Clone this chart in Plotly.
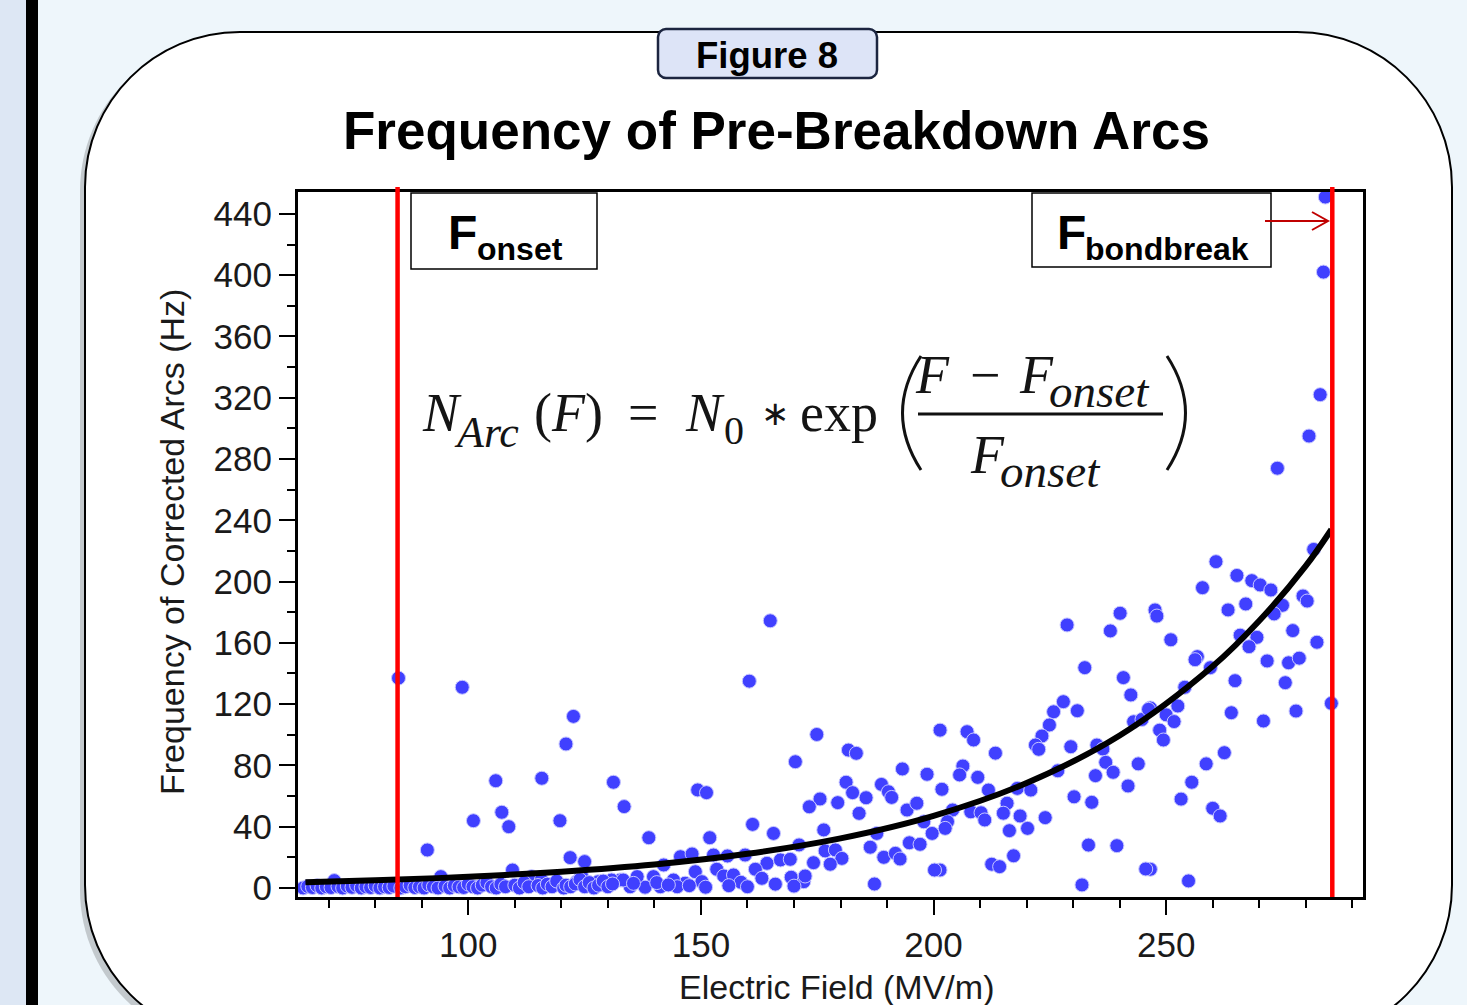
import plotly.graph_objects as go

# ---------------- data ----------------
field_mv_m = [
    284.2, 283.8, 283.1, 280.7, 273.9, 85.0, 98.7, 164.9, 160.4, 122.6, 121.0,
    260.7, 265.2, 268.4, 270.2, 272.5, 257.8, 247.6, 248.0, 263.3, 267.1, 275.0, 273.2,
    279.4, 280.3, 281.7, 251.0, 277.2, 269.5, 267.8, 265.9, 282.4, 256.7, 256.2, 259.5,
    271.7, 276.3, 278.6, 264.8, 275.6, 254.0, 252.5, 246.6, 250.0, 251.7, 248.6, 249.4,
    264.0, 270.9, 277.9, 285.5, 262.5, 258.6, 255.5, 253.2, 260.0, 261.6, 246.6, 254.8,
    228.7, 238.0, 240.1, 232.5, 240.8, 242.4, 227.9, 225.8, 230.9, 224.9, 223.3, 221.9,
    222.6, 229.5, 235.1, 236.4, 243.0, 244.8, 246.2, 237.0, 238.6, 234.8, 244.0, 241.8,
    226.7, 213.3, 207.2, 208.6, 201.4, 206.3, 205.6, 209.5, 201.8, 211.8, 218.0, 220.9,
    215.8, 215.0, 218.6, 204.1, 203.0, 202.5, 208.0, 210.2, 211.0, 224.0, 216.3, 220.2,
    230.2, 234.0, 233.3, 239.4, 217.2, 212.5, 214.2, 245.6, 231.9, 201.4,
    174.9, 181.7, 183.4, 170.3, 149.3, 151.2, 133.5, 193.3, 198.6, 181.2, 182.6, 185.5,
    188.8, 190.3, 191.0, 175.6, 173.3, 179.4, 184.0, 194.3, 196.4, 197.9, 199.7, 161.1,
    165.6, 151.9, 138.8, 176.4, 171.1, 187.8, 186.4, 194.8, 197.1, 176.7, 178.9, 180.3,
    177.8, 174.2, 189.3, 191.8, 192.8, 187.3, 200.2, 169.4, 172.1, 172.4, 145.6, 148.1,
    152.7, 155.7, 159.5, 164.2, 167.1, 169.2, 161.7, 163.1, 153.4, 154.9, 157.0, 158.6,
    148.8, 150.2, 146.6, 142.0, 139.8, 144.1, 141.3, 144.9, 134.8, 138.0, 136.3, 132.7,
    105.9, 115.8, 131.2, 107.2, 101.1, 108.7, 119.7, 91.2, 121.9, 125.0, 94.1, 109.5,
    71.2, 113.6, 115.7, 120.0, 123.3, 124.3, 127.9, 130.8, 133.3,
    64.5, 65.5, 66.5, 67.5, 68.5, 69.5, 70.5, 72.0, 73.0, 74.0, 75.0, 76.0, 77.0, 78.0,
    79.0, 80.0, 81.0, 82.0, 83.0, 84.0, 85.5, 86.5, 87.5, 88.5, 89.5, 90.5, 91.5, 92.5,
    93.5, 95.0, 96.0, 97.0, 98.0, 99.0, 100.0, 101.0, 102.0, 103.0, 104.0, 105.0, 106.0,
    107.0, 108.0, 110.0, 111.0, 112.0, 113.0, 115.0, 116.0, 117.0, 118.0, 119.0, 120.5,
    121.0, 122.0, 123.0, 124.0, 125.0, 126.0, 127.0, 128.0, 129.0, 130.0, 131.0, 135.5,
    140.5, 143.0, 147.5, 151.0, 156.0, 160.0, 166.0, 170.0,
]
arcs_hz = [
    451, 402, 322, 295, 274, 137, 131, 174.4, 135, 112, 94,
    213, 204, 200.6, 197.8, 194.5, 196, 181.5, 177.5, 181.5, 185.4, 184.5, 178.9,
    190.6, 187.3, 221, 162, 168, 163.6, 157.5, 165, 160.4, 151, 149, 143.8,
    148.2, 147, 150, 135.3, 134, 131, 118.8, 117.5, 113, 108.6, 103, 96.6,
    114.4, 109, 115.5, 120.5, 88.3, 81, 69, 58, 52, 47, 12.2, 4.6,
    171.7, 167.8, 179.3, 143.8, 137.3, 126, 121.6, 115, 115.7, 106.4, 99.2, 93.3,
    90.5, 92.2, 93.3, 90.7, 108.5, 110, 116.6, 82, 75.5, 73.3, 81, 66.6,
    76.5, 88, 102, 96.6, 103, 79.6, 73.8, 72.2, 64.4, 63.9, 65, 63.9,
    55.3, 48.8, 47, 50.9, 43.3, 38.9, 49.7, 49.1, 44.4, 45.9, 37.4, 38.9,
    59.5, 55.9, 28, 27.6, 21, 15.5, 13.9, 12.4, 2, 11.7,
    100.2, 90, 87.9, 82.4, 64, 62.2, 53.1, 77.7, 74.2, 69, 62.2, 58.9,
    67.6, 62.8, 59.1, 58.1, 53, 55.7, 48.7, 50.9, 55.3, 43.2, 35.6, 41.5,
    35.6, 32.8, 32.8, 37.9, 28.1, 35.6, 26.6, 29.5, 28.5, 24.2, 24.8, 19.3,
    15.5, 16.5, 20, 22.6, 18.9, 2.6, 11.7, 7, 4.1, 7.8, 20.4, 22.2,
    21.5, 20.9, 21.5, 16.1, 18.3, 18.7, 12.2, 6.3, 12.2, 7.8, 8.5, 3.7,
    10.6, 4.1, 3.1, 15, 7.4, 5.2, 0.8, 0.8, 0.8, 0.5, 7.4, 5.2,
    70, 71.6, 69, 49.4, 43.9, 40, 43.9, 24.8, 19.8, 17.2, 7.4, 11.7,
    4.8, 7.4, 5.2, 2, 4.1, 8.5, 4.1, 5.2, 5.2,
    0, 1, 0.3, 1.5, 0, 0.8, 0.3, 1, 0, 1.2, 0.4, 1.6, 0, 0.8,
    0.3, 1.5, 0, 0.8, 0.3, 1.2, 0, 0.8, 1.8, 0.3, 0.8, 0, 2, 0.8,
    0, 1.2, 0, 1.6, 0.7, 0.3, 2.5, 0.8, 0, 1.8, 3.5, 0.8, 0,
    2.5, 0.8, 1.8, 0, 3.5, 0.8, 1.6, 0, 2.5, 0.8, 4.5, 0,
    1.8, 0.8, 2.6, 5.5, 0.8, 3.5, 0, 1.8, 4.5, 0.8, 2.6, 3,
    3.5, 2, 1.5, 0.5, 1.5, 0.8, 2.5, 1.2,
]

# exponential fit curve
fit_field = [65, 80, 100, 120, 140, 160, 180, 200, 220, 240, 260, 270, 280, 285.5]
fit_arcs = [3.8, 5.0, 7.3, 10.6, 15.3, 22.3, 32.4, 47.1, 68.5, 99.5, 144.7, 174.4, 210.2, 234]

f_onset = 84.8
f_bondbreak = 285.7

x_range = [63.4, 292.3]
y_range = [-5.9, 454.3]

# ---------------- layout helpers (pixel -> paper) ----------------
W, H = 1467, 1005
L, R, T, B = 298, 1363, 192, 897


def px(x):
    return (x - L) / (R - L)


def py(y):
    return (B - y) / (B - T)


def rrect(x0, y0, x1, y1, r):
    k = 0.5523 * r
    pts = []
    pts.append(f"M{px(x0 + r)},{py(y0)}")
    pts.append(f"L{px(x1 - r)},{py(y0)}")
    pts.append(f"C{px(x1 - r + k)},{py(y0)} {px(x1)},{py(y0 + r - k)} {px(x1)},{py(y0 + r)}")
    pts.append(f"L{px(x1)},{py(y1 - r)}")
    pts.append(f"C{px(x1)},{py(y1 - r + k)} {px(x1 - r + k)},{py(y1)} {px(x1 - r)},{py(y1)}")
    pts.append(f"L{px(x0 + r)},{py(y1)}")
    pts.append(f"C{px(x0 + r - k)},{py(y1)} {px(x0)},{py(y1 - r + k)} {px(x0)},{py(y1 - r)}")
    pts.append(f"L{px(x0)},{py(y0 + r)}")
    pts.append(f"C{px(x0)},{py(y0 + r - k)} {px(x0 + r - k)},{py(y0)} {px(x0 + r)},{py(y0)}")
    pts.append("Z")
    return " ".join(pts)


SANS = "Liberation Sans, Arial, sans-serif"
SERIF = "Liberation Serif, Times New Roman, serif"

fig = go.Figure()

fig.add_trace(go.Scatter(
    x=field_mv_m, y=arcs_hz, mode="markers",
    marker=dict(size=14, color="rgb(64,64,255)", line=dict(width=1, color="rgb(200,200,255)")),
    cliponaxis=False, showlegend=False, hoverinfo="skip",
))
fig.add_trace(go.Scatter(
    x=fit_field, y=fit_arcs, mode="lines", line=dict(color="black", width=6, shape="spline"),
    showlegend=False, hoverinfo="skip",
))

shapes = []
# page background pieces
shapes.append(dict(type="rect", xref="paper", yref="paper", x0=px(0), x1=px(26), y0=py(0), y1=py(H),
                   fillcolor="#dde7f4", line=dict(width=0), layer="below"))
shapes.append(dict(type="rect", xref="paper", yref="paper", x0=px(26), x1=px(38), y0=py(0), y1=py(H),
                   fillcolor="black", line=dict(width=0), layer="below"))
# shadow + rounded panel
shapes.append(dict(type="path", xref="paper", yref="paper", path=rrect(80, 36, 1448, 1045, 155),
                   fillcolor="rgba(0,0,0,0.18)", line=dict(width=0), layer="below"))
shapes.append(dict(type="path", xref="paper", yref="paper", path=rrect(85, 32, 1452, 1040, 155),
                   fillcolor="white", line=dict(width=2, color="black"), layer="below"))
# Figure 8 box
shapes.append(dict(type="path", xref="paper", yref="paper", path=rrect(658, 29, 877, 78, 8),
                   fillcolor="#dde4f7", line=dict(width=2.5, color="#1c2540"), layer="below"))
# red vertical lines
for fx in (f_onset, f_bondbreak):
    shapes.append(dict(type="line", xref="x", yref="paper", x0=fx, x1=fx, y0=py(897), y1=py(187),
                       line=dict(color="#ff0000", width=4.5), layer="above"))
# label boxes
shapes.append(dict(type="rect", xref="paper", yref="paper", x0=px(411), x1=px(597), y0=py(269), y1=py(193),
                   fillcolor="white", line=dict(width=1.5, color="black"), layer="above"))
shapes.append(dict(type="rect", xref="paper", yref="paper", x0=px(1032), x1=px(1271), y0=py(267), y1=py(193),
                   fillcolor="white", line=dict(width=1.5, color="black"), layer="above"))
# red arrow
shapes.append(dict(type="path", xref="paper", yref="paper",
                   path=f"M{px(1265)},{py(221)} L{px(1327)},{py(221)} M{px(1312)},{py(212)} L{px(1328)},{py(221)} L{px(1312)},{py(230)}",
                   line=dict(color="#c00000", width=2), layer="above"))
# formula: fraction bar and big parentheses
shapes.append(dict(type="line", xref="paper", yref="paper", x0=px(918), x1=px(1163), y0=py(414), y1=py(414),
                   line=dict(color="#111", width=3), layer="above"))
shapes.append(dict(type="path", xref="paper", yref="paper",
                   path=f"M{px(921)},{py(356)} Q{px(884)},{py(413)} {px(921)},{py(470)}",
                   line=dict(color="#111", width=3), layer="above"))
shapes.append(dict(type="path", xref="paper", yref="paper",
                   path=f"M{px(1167)},{py(356)} Q{px(1204)},{py(413)} {px(1167)},{py(470)}",
                   line=dict(color="#111", width=3), layer="above"))

ann = []


def text(x, y, s, size, family=SANS, xanchor="center", yanchor="middle", angle=0, color="black"):
    ann.append(dict(x=px(x), y=py(y), xref="paper", yref="paper", text=s, showarrow=False,
                    xanchor=xanchor, yanchor=yanchor, textangle=angle,
                    font=dict(size=size, family=family, color=color)))


text(767, 55, "<b>Figure 8</b>", 36.5)
text(776, 130, "<b>Frequency of Pre-Breakdown Arcs</b>", 53)
text(836, 987, "Electric Field (MV/m)", 34, color="#1a1a1a")
text(172, 542, "Frequency of Corrected Arcs (Hz)", 34, angle=-90, color="#1a1a1a")

# label box texts
text(446, 233, "<b>F</b>", 48, xanchor="left")
text(475, 249, "<b>onset</b>", 32, xanchor="left")
text(1055, 233, "<b>F</b>", 48, xanchor="left")
text(1083, 249, "<b>bondbreak</b>", 32, xanchor="left")

# formula pieces
FC = "#141414"
text(420, 413, "<i>N</i>", 54, SERIF, xanchor="left", color=FC)
text(452, 432, "<i>Arc</i>", 44, SERIF, xanchor="left", color=FC)
text(532, 413, "(<i>F</i>)", 54, SERIF, xanchor="left", color=FC)
text(626, 413, "=", 54, SERIF, xanchor="left", color=FC)
text(683, 413, "<i>N</i>", 54, SERIF, xanchor="left", color=FC)
text(722, 430, "0", 40, SERIF, xanchor="left", color=FC)
text(759, 413, "∗", 34, SERIF, xanchor="left", color=FC)
text(798, 413, "exp", 54, SERIF, xanchor="left", color=FC)
text(913, 375, "<i>F</i>", 54, SERIF, xanchor="left", color=FC)
text(968, 375, "−", 54, SERIF, xanchor="left", color=FC)
text(1017, 375, "<i>F</i>", 54, SERIF, xanchor="left", color=FC)
text(1047, 391, "<i>onset</i>", 47, SERIF, xanchor="left", color=FC)
text(968, 455, "<i>F</i>", 54, SERIF, xanchor="left", color=FC)
text(998, 471, "<i>onset</i>", 47, SERIF, xanchor="left", color=FC)

fig.update_layout(
    width=W, height=H,
    margin=dict(l=L, r=W - R, t=T, b=H - B, pad=0),
    paper_bgcolor="#eef6fb",
    plot_bgcolor="rgba(0,0,0,0)",
    shapes=shapes,
    annotations=ann,
    showlegend=False,
    xaxis=dict(range=x_range, showline=True, linewidth=3, linecolor="black", mirror=True,
               ticks="outside", tickmode="linear", tick0=0, dtick=50, ticklen=15, tickwidth=2,
               tickcolor="black", showgrid=False, zeroline=False, ticklabelstandoff=0,
               tickfont=dict(size=35, family=SANS, color="#1a1a1a"),
               minor=dict(dtick=10, tick0=0, ticklen=8, tickwidth=2, ticks="outside",
                          tickcolor="black", showgrid=False)),
    yaxis=dict(range=y_range, showline=True, linewidth=3, linecolor="black", mirror=True,
               ticks="outside", tickmode="linear", tick0=0, dtick=40, ticklen=16, tickwidth=2,
               tickcolor="black", showgrid=False, zeroline=False, ticklabelstandoff=0,
               tickfont=dict(size=35, family=SANS, color="#1a1a1a"),
               minor=dict(dtick=20, tick0=0, ticklen=8, tickwidth=2, ticks="outside",
                          tickcolor="black", showgrid=False)),
)

fig.write_html(
    "out.html",
    config={"displayModeBar": False},
    post_script="document.body.style.margin='0';document.body.style.padding='0';"
                "document.body.style.background='#eef6fb';document.body.style.overflow='hidden';",
)
